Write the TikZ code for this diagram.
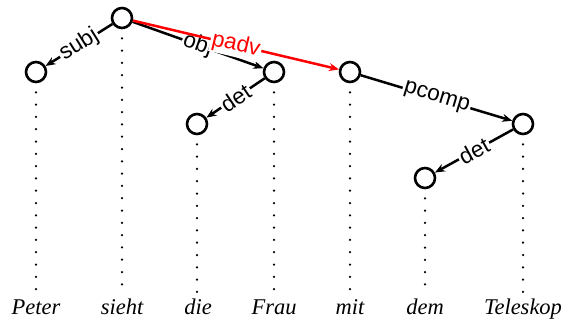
\documentclass[tikz,border=0pt]{standalone}
\usepackage{fontspec}
\setmainfont{Liberation Serif}
\setsansfont{Liberation Sans}
\usetikzlibrary{arrows.meta}
\begin{document}
\begin{tikzpicture}[x=1pt,y=-1pt,
  tok/.style={circle,draw,line width=2.6pt,minimum size=20pt,inner sep=0pt,fill=white},
  dep/.style={line width=2.5pt,-{Stealth[length=10pt,width=8pt]}},
  lab/.style={sloped,fill=white,inner sep=1.5pt,font=\sffamily\fontsize{22.5}{22.5}\selectfont},
  word/.style={font=\itshape\fontsize{22.5}{22.5}\selectfont,anchor=base,inner sep=1pt},
  dots/.style={line width=2.5pt,dash pattern=on 0pt off 12.3pt,line cap=round}]
\useasboundingbox (0,0) rectangle (564,325);
% tokens
\node[tok] (peter) at (36,72) {};
\node[tok] (sieht) at (122,18) {};
\node[tok] (die) at (197,124) {};
\node[tok] (frau) at (274,72) {};
\node[tok] (mit) at (350,72) {};
\node[tok] (dem) at (425,178) {};
\node[tok] (tele) at (523,124) {};
% words
\node[word] (wpeter) at (36,314) {Peter};
\node[word] (wsieht) at (122,314) {sieht};
\node[word] (wdie) at (198,314) {die};
\node[word] (wfrau) at (274,314) {Frau};
\node[word] (wmit) at (350,314) {mit};
\node[word] (wdem) at (425,314) {dem};
\node[word] (wtele) at (523,314) {Teleskop};
% projection lines
\foreach \a/\b in {peter/wpeter,sieht/wsieht,die/wdie,frau/wfrau,mit/wmit,dem/wdem,tele/wtele}
  \draw[dots,shorten <=9pt,shorten >=1pt] (\a.south) -- (\a.south |- \b.north);
% dependencies
\draw[dep] (sieht) -- node[lab] {subj} (peter);
\draw[dep] (sieht) -- node[lab] {obj} (frau);
\draw[dep,red] (sieht) -- node[lab,text=red] {padv} (mit);
\draw[dep] (frau) -- node[lab] {det} (die);
\draw[dep] (mit) -- node[lab] {pcomp} (tele);
\draw[dep] (tele) -- node[lab] {det} (dem);
\end{tikzpicture}
\end{document}
